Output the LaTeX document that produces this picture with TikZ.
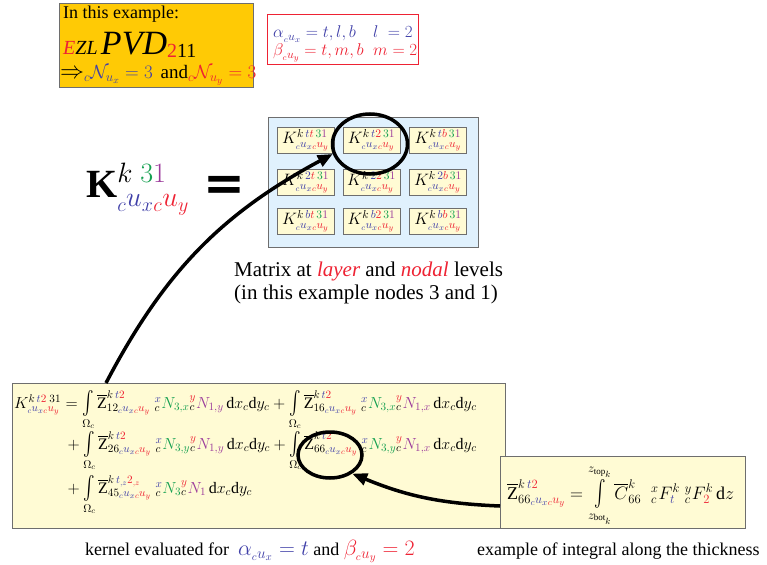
\RequirePackage{fix-cm}
\documentclass[tikz,border=0pt]{standalone}
\usepackage{amsmath}
\usepackage{fontspec}
\setmainfont{Liberation Serif}
\newfontfamily\djs{DejaVu Sans}
\usetikzlibrary{arrows.meta,shapes.geometric}
\definecolor{cb}{HTML}{4040A8}
\definecolor{cr}{HTML}{EE2233}
\definecolor{cg}{HTML}{14A050}
\definecolor{cp}{HTML}{9B3A9B}
\definecolor{orf}{HTML}{FFCA05}
\definecolor{yelf}{HTML}{FFFBD4}
\definecolor{bluf}{HTML}{E0F1FD}
\definecolor{bord}{HTML}{6E6E6E}
\newcommand{\ux}{\textcolor{cb}{{}_cu_x}}
\newcommand{\uy}{\textcolor{cr}{{}_cu_y}}
\newcommand{\Zb}{\overline{\mathrm{Z}}}
\newcommand{\Nx}[1]{{}^{\textcolor{cb}{x}}_{c}\textcolor{cg}{N_{#1}}}
\newcommand{\Ny}[1]{{}^{\textcolor{cr}{y}}_{c}\textcolor{cp}{N_{#1}}}
\newcommand{\dxy}{\,\mathrm{d}x_c\mathrm{d}y_c}
\newcommand{\bigI}{\mathop{\raisebox{-1pt}{\scalebox{1}[1.35]{$\int$}}}}
\newcommand{\IntO}{\bigI\limits_{\Omega_c}}
\newcommand{\ktt}{k\,\textcolor{cb}{t}\textcolor{cr}{2}}
\newcommand{\cellK}[2]{$K^{k\,\textcolor{cb}{#1}\textcolor{cr}{#2}\,\textcolor{cg}{3}\textcolor{cp}{1}}_{\ux\uy}$}
\begin{document}
\begin{tikzpicture}[x=1pt,y=-1pt,
  box/.style={draw=bord,line width=1pt,anchor=north west,inner sep=0pt},
  txt/.style={anchor=base west,inner sep=0pt},
  fl/.style={txt,font=\fontsize{16}{18}\selectfont},
  cellbox/.style={draw=bord,fill=yelf,line width=0.8pt,minimum width=57pt,minimum height=26pt,inner sep=0pt,font=\fontsize{16.5}{18}\selectfont},
  thk/.style={line width=3.5pt},
  ring/.style={draw,ellipse,thk,inner sep=0pt},
  tip/.style={-{Triangle[length=15pt,width=12pt]}}]
\useasboundingbox (0,0) rectangle (767,564);
% top-left orange box
\node[box,fill=orf,minimum width=194pt,minimum height=84pt] (ob) at (59,3) {};
\node[txt,font=\fontsize{18}{20}\selectfont] (ob1) at (63,19) {In this example:};
\node[txt] (ob2) at (63,55) {{\fontsize{20}{22}\selectfont\itshape\textcolor{cr}{E}ZL\,}{\fontsize{34}{36}\selectfont\itshape PVD}{\fontsize{20}{22}\selectfont\raisebox{-3pt}{\textcolor{cr}{2}11}}};
\node[txt] (ob3) at (60,79) {{\fontsize{24}{24}\selectfont$\Rightarrow$}{\fontsize{19}{20}\selectfont$\textcolor{cb}{{}_c\mathcal{N}_{u_x} = 3}$ \,and$\textcolor{cr}{{}_c\mathcal{N}_{u_y} = 3}$}};
% red box
\node[draw=cr,line width=1pt,anchor=north west,minimum width=151pt,minimum height=50pt,inner sep=0pt] (rb) at (267,14) {};
\node[txt,font=\fontsize{17}{18}\selectfont] (rb1) at (273,38) {\color{cb}$\alpha_{{}_cu_x} = t,l,b\quad l\;=2$};
\node[txt,font=\fontsize{17}{18}\selectfont] (rb2) at (273,56) {\color{cr}$\beta_{{}_cu_y} = t,m,b\;\; m = 2$};
% big K
\node[txt,font=\fontsize{40}{40}\selectfont] (bk) at (86,197) {$\mathbf{K}^{k\;\textcolor{cg}{3}\textcolor{cp}{1}}_{\ux\uy}$};
\node[txt,font=\fontsize{50}{50}\djs\bfseries] (eq) at (203,200) {=};
% matrix
\node[box,line width=1.2pt,fill=bluf,minimum width=210pt,minimum height=130pt] (mx) at (268,117) {};
\node[cellbox] (c11) at (305.5,140) {\cellK{t}{t}};
\node[cellbox] (c12) at (371.5,140) {\cellK{t}{2}};
\node[cellbox] (c13) at (438,140) {\cellK{t}{b}};
\node[cellbox] (c21) at (305.5,182) {\cellK{2}{t}};
\node[cellbox] (c22) at (371.5,182) {\cellK{2}{2}};
\node[cellbox] (c23) at (438,182) {\cellK{2}{b}};
\node[cellbox] (c31) at (305.5,221) {\cellK{b}{t}};
\node[cellbox] (c32) at (371.5,221) {\cellK{b}{2}};
\node[cellbox] (c33) at (438,221) {\cellK{b}{b}};
\node[ring,minimum width=75pt,minimum height=60pt] (el1) at (370,144) {};
% caption
\node[txt,font=\fontsize{21}{23}\selectfont] (mt1) at (234,276) {Matrix at \textcolor{cr}{\itshape layer} and \textcolor{cr}{\itshape nodal} levels};
\node[txt,font=\fontsize{21}{23}\selectfont] (mt2) at (234,299) {(in this example nodes 3 and 1)};
% formula box
\node[box,line width=1.2pt,fill=yelf,minimum width=493pt,minimum height=145pt] (fb) at (12,383) {};
\node[fl] (l1) at (14,408) {$K^{\ktt\;31}_{\ux\uy} = \IntO \Zb^{\ktt}_{12\ux\uy}\;\Nx{3,x}\Ny{1,y}\dxy + \IntO \Zb^{\ktt}_{16\ux\uy}\;\Nx{3,x}\Ny{1,x}\dxy$};
\node[fl,anchor=base east] (l2) at (l1.base east |- 0,449) {${}+ \IntO \Zb^{\ktt}_{26\ux\uy}\;\Nx{3,y}\Ny{1,y}\dxy + \IntO \Zb^{\ktt}_{66\ux\uy}\;\Nx{3,y}\Ny{1,x}\dxy$};
\node[fl] (l3) at (l2.base west |- 0,493) {${}+ \IntO \Zb^{k\,\textcolor{cb}{t_{,z}}\textcolor{cr}{2_{,z}}}_{45\ux\uy}\;\Nx{3}\Ny{1}\dxy$};
\node[ring,minimum width=64pt,minimum height=46pt] (el2) at (330,455) {};
% right box
\node[box,line width=1.2pt,fill=yelf,minimum width=245pt,minimum height=72pt] (rbx) at (500,456) {};
\node[txt,font=\fontsize{18}{20}\selectfont] (rf) at (507,499) {$\Zb^{\ktt}_{66\ux\uy} = \mathop{\raisebox{-2pt}{\scalebox{1}[1.5]{$\int$}}}\limits_{z_{\mathrm{bot}_k}}^{z_{\mathrm{top}_k}} \overline{C}^{k}_{66}\;\;{}^x_cF^k_{\textcolor{cb}{t}}\;{}^y_cF^k_{\textcolor{cr}{2}}\,\mathrm{d}z$};
% arrows
\coordinate (a1) at (106,383);
\coordinate (a2) at (500,506);
\draw[thk,tip] (a1) to[bend left=17] (el1.195);
\draw[thk,tip] (a2) to[bend left=10] (el2.-40);
% bottom captions
\node[txt,font=\fontsize{18}{20}\selectfont] (bt1) at (85,555) {kernel evaluated for\ \ {\fontsize{22}{22}\selectfont$\textcolor{cb}{\alpha_{{}_cu_x} = t}$} and {\fontsize{22}{22}\selectfont$\textcolor{cr}{\beta_{{}_cu_y} = 2}$}};
\node[txt,font=\fontsize{18}{20}\selectfont] (bt2) at (477,555) {example of integral along the thickness};
\end{tikzpicture}
\end{document}
